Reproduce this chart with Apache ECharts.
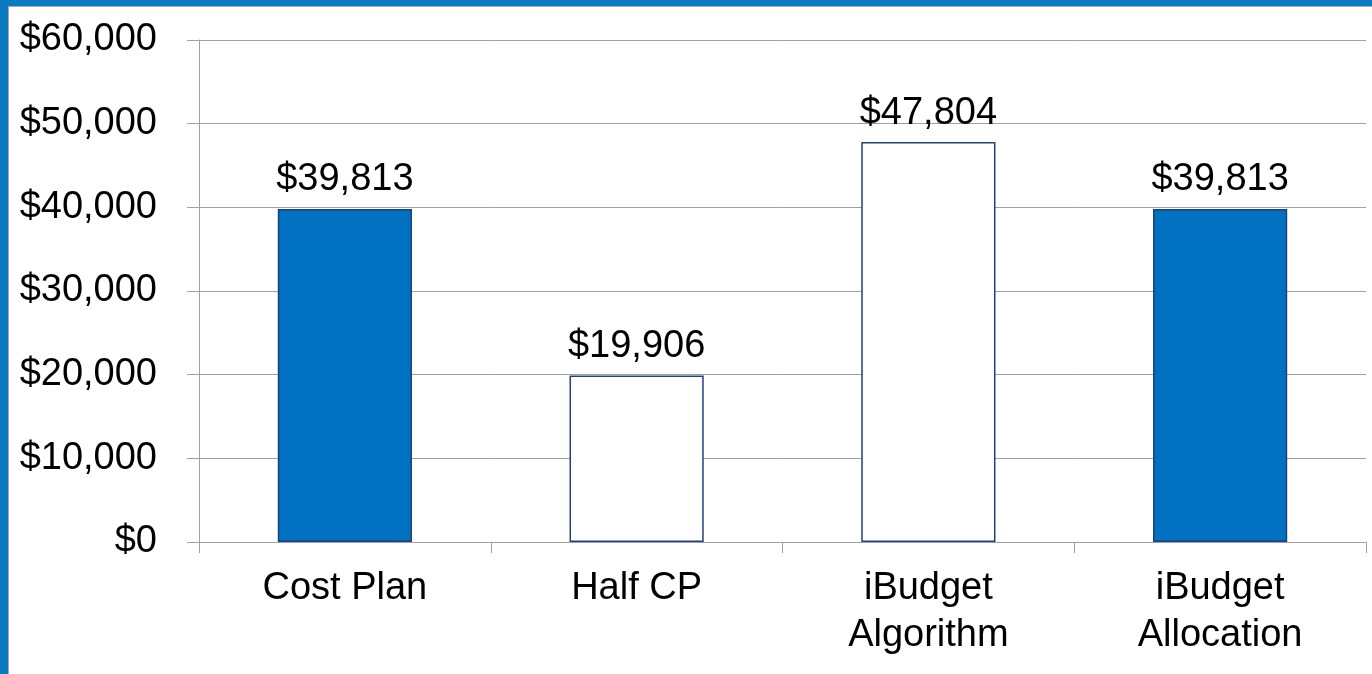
<!DOCTYPE html>
<html>
<head>
<meta charset="utf-8">
<script src="https://cdn.jsdelivr.net/npm/echarts@6/dist/echarts.min.js"></script>
<style>
html,body{margin:0;padding:0;background:#fff;}
#chart{width:1372px;height:674px;}
</style>
</head>
<body>
<div id="chart"></div>
<script>
const categories = ['Cost Plan', 'Half CP', 'iBudget\nAlgorithm', 'iBudget\nAllocation'];
const values = [39813, 19906, 47804, 39813];
const filled = [true, false, false, true];
const yTicks = [0, 10000, 20000, 30000, 40000, 50000, 60000];

const fmt = v => '$' + v.toLocaleString('en-US');
const font = '"Liberation Sans", Arial, sans-serif';

const chart = echarts.init(document.getElementById('chart'), null, {renderer: 'canvas'});
chart.setOption({
  animation: false,
  backgroundColor: '#ffffff',
  graphic: [
    {type: 'rect', left: 0, top: 0, shape: {width: 1372, height: 6}, style: {fill: '#0b7bc1'}, z: 100},
    {type: 'rect', left: 0, top: 0, shape: {width: 8, height: 674}, style: {fill: '#0b7bc1'}, z: 100},
    {type: 'rect', left: 8, top: 6, shape: {width: 1364, height: 1}, style: {fill: '#a8a8a8'}, z: 100},
    {type: 'rect', left: 8, top: 6, shape: {width: 1, height: 668}, style: {fill: '#a8a8a8'}, z: 100}
  ],
  grid: {left: 199, right: 6, top: 40, bottom: 132, containLabel: false},
  xAxis: {
    type: 'category',
    data: categories,
    axisLine: {lineStyle: {color: '#a0a0a0', width: 1}},
    axisTick: {show: true, length: 11, lineStyle: {color: '#a0a0a0'}},
    axisLabel: {color: '#000', fontSize: 38, fontFamily: font, margin: 23, lineHeight: 47, interval: 0}
  },
  yAxis: {
    type: 'value',
    min: 0, max: 60000, interval: 10000,
    axisLine: {show: true, lineStyle: {color: '#a0a0a0', width: 1}},
    axisTick: {show: true, length: 12, lineStyle: {color: '#a0a0a0'}},
    splitLine: {show: true, lineStyle: {color: '#a0a0a0', width: 1}},
    axisLabel: {color: '#000', fontSize: 38, fontFamily: font, margin: 42, formatter: v => fmt(v)}
  },
  series: [{
    type: 'bar',
    barWidth: '46%',
    data: values.map((v, i) => ({
      value: v,
      itemStyle: filled[i]
        ? {color: '#0070c0', borderColor: '#1f3f7a', borderWidth: 1.5}
        : {color: '#ffffff', borderColor: '#253f7f', borderWidth: 1.5}
    })),
    label: {
      show: true, position: 'top', distance: 10,
      color: '#000', fontSize: 38, fontFamily: font,
      formatter: p => fmt(p.value)
    }
  }]
});
</script>
</body>
</html>
